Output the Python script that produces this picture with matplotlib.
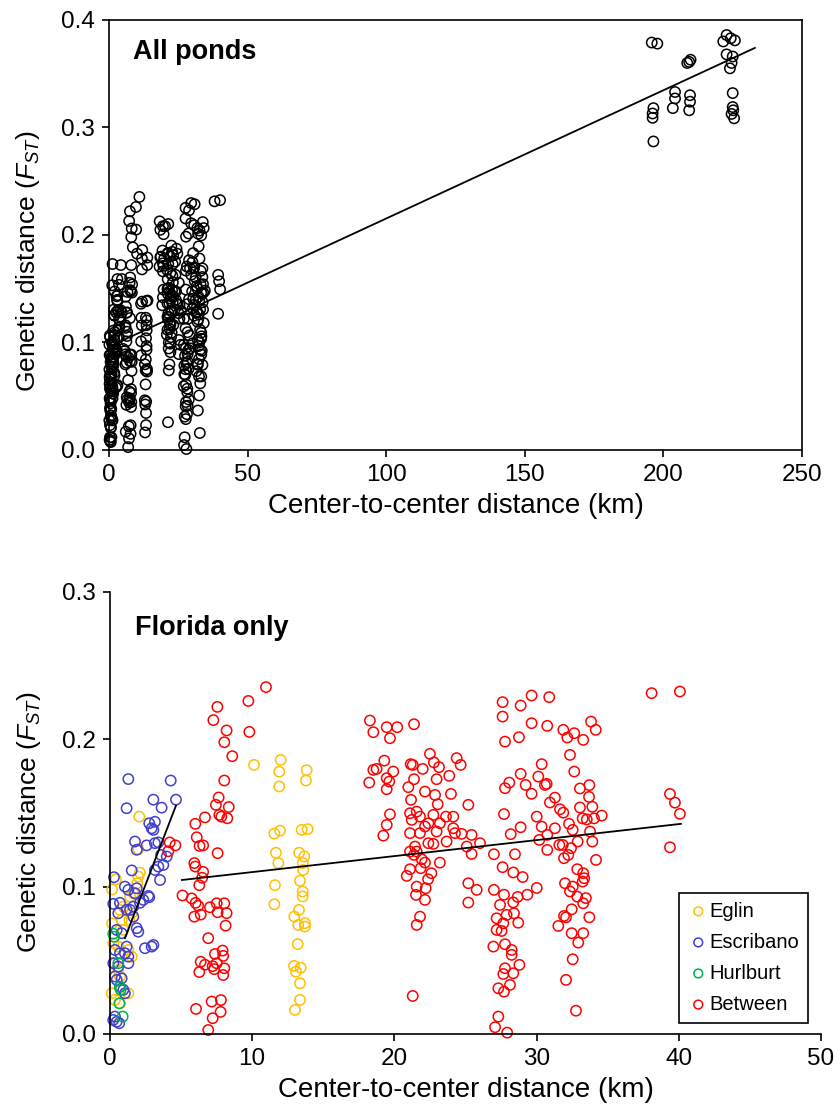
import matplotlib
matplotlib.use("Agg")
import matplotlib.pyplot as plt
import numpy as np

plt.rcParams['font.family'] = ['Liberation Sans', 'DejaVu Sans']
plt.rcParams['mathtext.fontset'] = 'custom'
plt.rcParams['mathtext.rm'] = 'Liberation Sans'
plt.rcParams['mathtext.it'] = 'Liberation Sans:italic'

# ---- pairwise data (km, FST) ----
eglin_x = [2.06, 1.99, 2.10, 1.99, 1.92, 1.64, 1.41, 0.70, 0.94, 1.53, 1.36, 0.82, 0.94,
           0.23, 0.58, 1.29, 1.53, 0.35, 0.58, 0.70, 0.12, 0.35, 0.70, 1.29, 0.42, 0.15, 0.15,
           10.13, 12.0, 11.9, 11.9, 13.83, 13.78, 11.56, 11.96, 11.67, 11.84, 11.6, 11.56,
           13.48, 13.9, 13.3, 13.66, 13.55, 13.59, 13.36, 13.55, 13.55, 13.29, 12.96, 13.24,
           13.71, 13.71, 13.2, 12.94, 13.41, 13.08, 13.36, 13.36, 13.01]
eglin_y = [0.1475, 0.1254, 0.1095, 0.1068, 0.1023, 0.0955, 0.0932, 0.0842, 0.0864, 0.0819,
           0.0774, 0.0774, 0.0706, 0.0616, 0.0593, 0.057, 0.0525, 0.048, 0.0434, 0.039,
           0.0276, 0.0231, 0.0208, 0.0276, 0.105, 0.098, 0.075,
           0.1826, 0.186, 0.178, 0.168, 0.179, 0.172, 0.136, 0.138, 0.123, 0.116, 0.101, 0.088,
           0.1385, 0.139, 0.123, 0.1205, 0.116, 0.1113, 0.104, 0.0967, 0.0933, 0.0842, 0.0797,
           0.074, 0.0752, 0.0729, 0.061, 0.0462, 0.045, 0.0423, 0.0344, 0.0231, 0.0163]

escribano_x = [1.29, 4.27, 4.64, 3.05, 3.63, 1.17, 2.76, 3.16, 3.05, 2.93, 1.76, 1.88, 2.58,
               3.16, 3.40, 3.59, 3.99, 3.75, 3.40, 3.16, 3.52, 0.28, 1.53, 1.05, 1.29, 1.88,
               1.76, 2.69, 2.76, 2.34, 2.11, 0.23, 0.70, 1.64, 1.41, 0.58, 1.17, 1.64, 1.88,
               1.99, 0.47, 0.82, 2.46, 2.93, 3.05, 1.17, 0.35, 0.70, 1.05, 1.29, 0.23, 0.58,
               1.29, 0.35, 0.47, 0.82, 0.70, 0.94, 1.05, 0.23, 0.47, 0.65, 0.35]
escribano_y = [0.173, 0.172, 0.159, 0.159, 0.1536, 0.1532, 0.143, 0.144, 0.1385, 0.1396,
               0.1306, 0.125, 0.128, 0.1295, 0.130, 0.1215, 0.1204, 0.1147, 0.1136, 0.1113,
               0.1045, 0.1064, 0.111, 0.100, 0.0978, 0.0989, 0.0955, 0.0937, 0.0928, 0.091,
               0.089, 0.0883, 0.089, 0.0864, 0.0842, 0.0819, 0.0842, 0.0796, 0.0718, 0.0694,
               0.0706, 0.0684, 0.0582, 0.0593, 0.0604, 0.0593, 0.057, 0.0548, 0.0548, 0.0525,
               0.048, 0.0457, 0.048, 0.039, 0.0367, 0.0378, 0.032, 0.030, 0.0276, 0.0095,
               0.0083, 0.0073, 0.0118]

hurlburt_x = [0.23, 0.30, 0.58, 0.70, 0.75, 0.66, 0.89]
hurlburt_y = [0.068, 0.066, 0.048, 0.032, 0.030, 0.0208, 0.0118]

between_x = [4.2, 4.6, 4.1,
             10.97, 9.73, 7.55, 7.27, 8.2, 9.8, 8.04, 8.6, 8.04, 7.64, 7.45, 8.35, 7.69, 8.25,
             7.83, 6.0, 6.68, 6.1, 6.3, 6.55, 7.57, 5.93, 6.0, 6.55, 6.48, 6.28, 5.1, 5.74,
             6.02, 6.2, 5.93, 6.38, 7.03, 7.5, 8.04, 8.2, 7.57, 8.13, 6.91, 7.92, 7.38, 7.96,
             6.38, 6.68, 7.22, 7.5, 7.33, 6.28, 8.04, 7.96, 7.15, 7.8, 6.05, 7.78, 7.22, 6.91,
             18.28, 18.52, 19.46, 20.2, 19.69, 21.38, 19.29, 18.52, 18.75, 18.23, 19.46, 19.92,
             19.64, 19.46, 19.69, 19.46, 19.22,
             21.15, 21.29, 22.5, 22.78, 23.14, 21.99, 22.97, 21.38, 23.86, 20.98, 22.15, 22.86,
             23.98, 24.38, 24.66, 21.17,
             23.05, 25.2, 21.1, 21.57, 21.22, 21.8, 22.39, 22.74, 23.2, 23.63, 24.14, 22.15,
             21.1, 21.8, 22.97, 24.14, 24.26, 24.73, 25.43, 26.02, 23.67, 22.39, 22.74, 21.45,
             25.09, 25.43,
             21.1, 21.57, 21.38, 21.92, 22.15, 21.85, 23.2, 21.1, 20.87, 22.6, 22.37, 22.2,
             21.57, 21.52, 22.15, 21.8, 21.57, 25.2, 25.79, 25.2, 21.29,
             38.09, 40.08, 27.61, 27.61, 28.88, 29.65, 30.89, 27.78, 28.76, 29.65, 30.75,
             31.88, 32.16, 32.65, 33.28, 33.83, 34.16, 32.35, 32.65,
             30.36, 30.12, 28.88, 28.08, 27.78, 29.23, 29.65, 30.59, 30.71, 31.29, 30.94,
             31.65, 31.88,
             27.71, 30.01, 30.36, 31.29, 28.88, 28.18, 30.19, 30.75, 30.75,
             33.05, 33.71, 33.69, 33.05, 33.92, 33.24, 33.53, 34.58, 34.04, 32.28, 32.54,
             33.76, 33.92, 32.89, 32.42, 32.23, 31.93, 31.6, 31.84, 34.18,
             39.38, 39.73, 40.08, 39.38,
             27.0, 28.48, 27.61, 28.36, 29.02, 30.01, 29.35, 28.67, 28.36, 27.71, 27.0, 27.43,
             27.19, 27.89, 28.41, 28.71, 27.66, 27.19, 27.54, 27.78, 28.25, 28.25, 26.96,
             27.78, 28.79, 28.36, 27.66, 28.13, 27.71, 27.31, 27.31, 27.08, 27.93,
             32.0, 32.54, 32.35, 32.86, 33.47, 33.28, 32.47, 31.93, 32.07, 31.53, 32.47, 33.28,
             32.93, 33.71, 32.54, 32.07, 32.77, 32.86, 33.28, 33.35, 33.24]
between_y = [0.130, 0.128, 0.124,
             0.2354, 0.226, 0.222, 0.213, 0.206, 0.205, 0.198, 0.1885, 0.172, 0.1605, 0.1555,
             0.154, 0.1487, 0.1464, 0.1475, 0.1426, 0.147, 0.1335, 0.1276, 0.128, 0.1227,
             0.116, 0.1136, 0.110, 0.106, 0.101, 0.094, 0.092, 0.089, 0.087, 0.0796, 0.081,
             0.086, 0.0887, 0.0887, 0.082, 0.0826, 0.0735, 0.065, 0.0566, 0.0543, 0.053, 0.049,
             0.047, 0.046, 0.048, 0.044, 0.042, 0.0446, 0.040, 0.022, 0.023, 0.017, 0.015,
             0.0107, 0.0027,
             0.2127, 0.2048, 0.2082, 0.2082, 0.2007, 0.2102, 0.1855, 0.1792, 0.1799, 0.1706,
             0.1736, 0.1781, 0.1713, 0.1661, 0.1491, 0.1419, 0.1346,
             0.1831, 0.1826, 0.1901, 0.1843, 0.1811, 0.1799, 0.1729, 0.1729, 0.1752, 0.1675,
             0.1645, 0.1622, 0.1629, 0.1872, 0.1826, 0.1589,
             0.1559, 0.1555, 0.1498, 0.1509, 0.1453, 0.1475, 0.143, 0.1487, 0.143, 0.1475,
             0.1475, 0.1408, 0.1363, 0.1363, 0.1374, 0.1396, 0.1363, 0.1358, 0.1351, 0.1295,
             0.1306, 0.1295, 0.129, 0.1272, 0.1272, 0.1222,
             0.1238, 0.1238, 0.1215, 0.1186, 0.1163, 0.1125, 0.1163, 0.1118, 0.1073, 0.1091,
             0.105, 0.0989, 0.1, 0.0944, 0.0910, 0.0796, 0.074, 0.1023, 0.0978, 0.0892, 0.0258,
             0.2313, 0.2324, 0.2252, 0.2154, 0.2229, 0.2297, 0.2286, 0.1984, 0.2014, 0.2109,
             0.2091, 0.2064, 0.2012, 0.2041, 0.1996, 0.2120, 0.2064, 0.1894, 0.1781,
             0.1831, 0.1747, 0.1765, 0.1706, 0.1668, 0.1690, 0.1630, 0.1690, 0.1697, 0.1604,
             0.1571, 0.1525, 0.1502,
             0.1492, 0.1475, 0.1407, 0.1396, 0.1403, 0.1356, 0.1317, 0.1351, 0.1249,
             0.1666, 0.1689, 0.1609, 0.1537, 0.1542, 0.1463, 0.1456, 0.1482, 0.1463, 0.1426,
             0.1385, 0.1374, 0.1306, 0.1306, 0.1261, 0.1215, 0.1193, 0.1283, 0.1283, 0.1181,
             0.1629, 0.157, 0.1494, 0.1267,
             0.122, 0.122, 0.1132, 0.1096, 0.1065, 0.0991, 0.0945, 0.093, 0.0893, 0.0945,
             0.0978, 0.0876, 0.0785, 0.0808, 0.0819, 0.0755, 0.0751, 0.0706, 0.0699, 0.0609,
             0.057, 0.0537, 0.0593, 0.0446, 0.0469, 0.0412, 0.0407, 0.0333, 0.0287, 0.031,
             0.0118, 0.0046, 0.0009,
             0.1023, 0.1, 0.0967, 0.0932, 0.0922, 0.0887, 0.0846, 0.0801, 0.0792, 0.0733,
             0.0684, 0.0684, 0.062, 0.0792, 0.0507, 0.0367, 0.0158, 0.1118, 0.1091, 0.1057,
             0.1034]

# pairs involving the distant (non-Florida) ponds
far_x = [195.8, 197.8, 208.6, 209.8, 209.3, 222.8, 224.3, 225.8, 221.6, 222.8, 225.0, 224.6,
         224.0, 204.2, 204.2, 203.4, 209.6, 209.6, 209.3, 196.4, 196.1, 196.1, 196.4, 225.0,
         225.0, 225.2, 224.6, 225.5]
far_y = [0.379, 0.378, 0.360, 0.363, 0.361, 0.386, 0.383, 0.381, 0.380, 0.368, 0.366, 0.360,
         0.355, 0.333, 0.327, 0.318, 0.330, 0.324, 0.316, 0.318, 0.313, 0.309, 0.287, 0.332,
         0.319, 0.316, 0.3126, 0.3085]

# regression lines (end points)
all_fit_x = [0, 233]
all_fit_y = [0.096, 0.374]
escr_fit_x = [1.05, 4.64]
escr_fit_y = [0.065, 0.155]
betw_fit_x = [5.06, 40.15]
betw_fit_y = [0.1045, 0.1426]

colors = {'Eglin': '#FFC000', 'Escribano': '#4040CC', 'Hurlburt': '#00B050', 'Between': '#FF0000'}

fig = plt.figure(figsize=(8.39, 11.16), dpi=100)
ylab = 'Genetic distance ($F_{ST}$)'
xlab = 'Center-to-center distance (km)'

# ---------------- top: all ponds ----------------
ax1 = fig.add_axes([0.1299, 0.5968, 0.826, 0.3853])
all_x = eglin_x + escribano_x + hurlburt_x + between_x + far_x
all_y = eglin_y + escribano_y + hurlburt_y + between_y + far_y
ax1.scatter(all_x, all_y, s=55, facecolors='none', edgecolors='black', linewidths=1.1,
            clip_on=False, zorder=2)
ax1.plot(all_fit_x, all_fit_y, color='black', lw=1.3, zorder=3)
ax1.set_xlim(0, 250)
ax1.set_ylim(0, 0.4)
ax1.set_xticks([0, 50, 100, 150, 200, 250])
ax1.set_yticks([0.0, 0.1, 0.2, 0.3, 0.4])
ax1.set_yticklabels(['0.0', '0.1', '0.2', '0.3', '0.4'])
ax1.set_xlabel(xlab, fontsize=20, labelpad=5)
ax1.set_ylabel(ylab, fontsize=19)
ax1.yaxis.set_label_coords(-0.097, 0.44)
ax1.text(0.035, 0.925, 'All ponds', transform=ax1.transAxes, fontsize=19.5,
         fontweight='bold', va='center', ha='left')
for sp in ax1.spines.values():
    sp.set_linewidth(1.2)

# ---------------- bottom: Florida only ----------------
ax2 = fig.add_axes([0.1311, 0.0735, 0.8474, 0.3961])
ax2.scatter(eglin_x, eglin_y, s=55, facecolors='none', edgecolors=colors['Eglin'],
            linewidths=1.1, clip_on=False, zorder=2, label='Eglin')
ax2.scatter(escribano_x, escribano_y, s=55, facecolors='none', edgecolors=colors['Escribano'],
            linewidths=1.1, clip_on=False, zorder=2, label='Escribano')
ax2.scatter(hurlburt_x, hurlburt_y, s=55, facecolors='none', edgecolors=colors['Hurlburt'],
            linewidths=1.1, clip_on=False, zorder=2, label='Hurlburt')
ax2.scatter(between_x, between_y, s=55, facecolors='none', edgecolors=colors['Between'],
            linewidths=1.1, clip_on=False, zorder=2, label='Between')
ax2.plot(escr_fit_x, escr_fit_y, color='black', lw=1.3, zorder=3)
ax2.plot(betw_fit_x, betw_fit_y, color='black', lw=1.3, zorder=3)
ax2.set_xlim(0, 50)
ax2.set_ylim(0, 0.3)
ax2.set_xticks([0, 10, 20, 30, 40, 50])
ax2.set_yticks([0.0, 0.1, 0.2, 0.3])
ax2.set_yticklabels(['0.0', '0.1', '0.2', '0.3'])
ax2.set_xlabel(xlab, fontsize=20, labelpad=5)
ax2.set_ylabel(ylab, fontsize=19)
ax2.yaxis.set_label_coords(-0.094, 0.48)
ax2.text(0.035, 0.918, 'Florida only', transform=ax2.transAxes, fontsize=19.5,
         fontweight='bold', va='center', ha='left')
ax2.spines['top'].set_visible(False)
ax2.spines['right'].set_visible(False)
ax2.spines['left'].set_linewidth(1.2)
ax2.spines['bottom'].set_linewidth(1.2)

leg = ax2.legend(loc='lower right', bbox_to_anchor=(0.982, 0.025), fontsize=14.5,
                 markerscale=0.85, handletextpad=0.05, handlelength=1.0, labelspacing=0.6,
                 borderpad=0.45, fancybox=False, framealpha=1, edgecolor='black',
                 borderaxespad=0)
leg.get_frame().set_linewidth(1.2)

for ax in (ax1, ax2):
    ax.tick_params(direction='out', length=5, width=1.2, labelsize=17.5, pad=5)

fig.savefig('out.png', dpi=100)
